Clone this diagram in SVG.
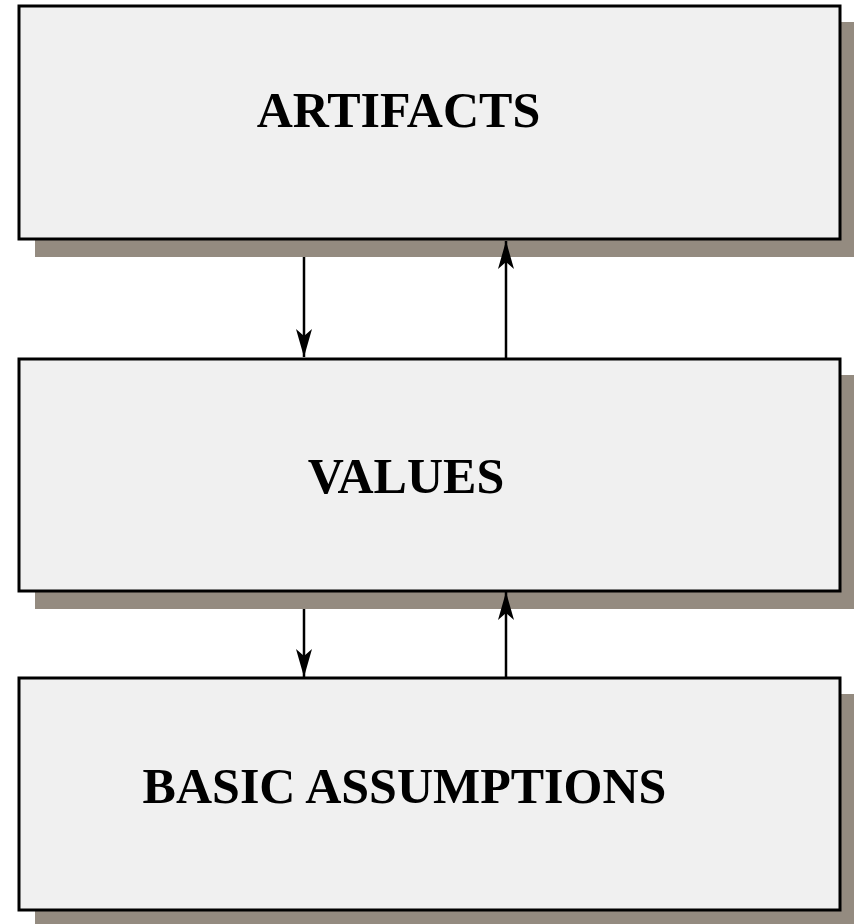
<svg xmlns="http://www.w3.org/2000/svg" width="854" height="924" viewBox="0 0 854 924">
<defs>
<style>
.shadow{fill:#948b80;}
.box{fill:#f0f0f0;stroke:#000;stroke-width:3;}
.label{font-family:"Liberation Serif","Times New Roman",serif;font-weight:bold;font-size:50px;fill:#000;text-anchor:middle;}
.conn{stroke:#000;stroke-width:2.5;fill:none;}
</style>
<marker id="arrow" viewBox="0 0 28 16" refX="28" refY="8" markerWidth="28" markerHeight="16" markerUnits="userSpaceOnUse" orient="auto">
<path d="M0,0 L28,8 L0,16 L7,8 Z" fill="#000"/>
</marker>
</defs>
<rect width="854" height="924" fill="#fff"/>
<g id="artifacts">
<rect class="shadow" x="35" y="22" width="819" height="235"/>
<rect class="box" x="19" y="6" width="821" height="233"/>
<text class="label" x="398.5" y="127">ARTIFACTS</text>
</g>
<g id="values">
<rect class="shadow" x="35" y="375" width="819" height="234"/>
<rect class="box" x="19" y="359" width="821" height="232"/>
<text class="label" x="406" y="493">VALUES</text>
</g>
<g id="basic-assumptions">
<rect class="shadow" x="35" y="694" width="819" height="230"/>
<rect class="box" x="19" y="678" width="821" height="232"/>
<text class="label" x="404.5" y="803">BASIC ASSUMPTIONS</text>
</g>
<g id="connectors">
<line class="conn" x1="304" y1="257" x2="304" y2="357" marker-end="url(#arrow)"/>
<line class="conn" x1="506" y1="358" x2="506" y2="241" marker-end="url(#arrow)"/>
<line class="conn" x1="304" y1="609" x2="304" y2="677" marker-end="url(#arrow)"/>
<line class="conn" x1="506" y1="678" x2="506" y2="592" marker-end="url(#arrow)"/>
</g>
</svg>
